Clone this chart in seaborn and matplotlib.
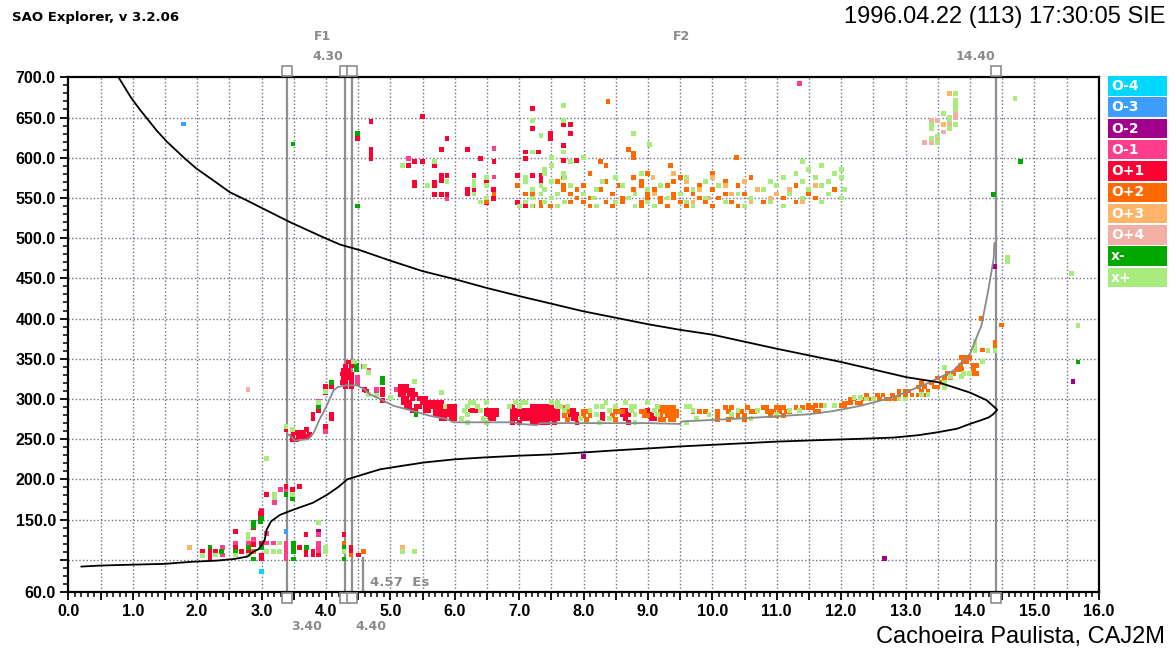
import numpy as np
import pandas as pd
import matplotlib
matplotlib.use("Agg")
import matplotlib.pyplot as plt
import seaborn as sns
from matplotlib.patches import Rectangle
from matplotlib.ticker import MultipleLocator

# ---------------- data ----------------
MODES = ["O-4", "O-3", "O-2", "O-1", "O+1", "O+2", "O+3", "O+4", "x-", "x+"]
MODE_COLORS = ["#00D8FF", "#3D9EFF", "#A0008C", "#FF3D8C", "#FF0033",
               "#FF6A00", "#FFB468", "#F2AFA6", "#00A800", "#A8EC80"]

# rows of (virtual height km, [frequencies MHz])
o4_rows = [(85, [3.0])]
o3_rows = [(642, [1.79]), (135, [3.38])]
o2_rows = [(135, [3.89]), (228, [8.0]), (102, [12.68]), (465, [14.38]), (322, [15.6])]
o1_rows = [
    (101, [3.38]), (106, [2.39, 3.38]), (110, [3.38, 3.89]), (115, [2.39, 3.38, 3.89]),
    (121, [2.59, 2.8, 3.08, 3.19, 3.38, 3.89]), (125, [2.88]), (131, [3.89]), (133, [3.08]),
    (162, [3.0]), (171, [3.2]), (187, [3.29, 3.38]), (260, [3.99]), (258, [3.57]),
    (297, [3.88]), (315, [4.09]), (319, [4.49]), (323, [4.49]), (327, [4.49]),
    (340, [4.58]), (336, [4.67]), (306, [4.78]), (312, [4.78, 5.1]), (281, [6.2]),
    (549, [5.88]), (576, [6.61]), (599, [5.28]), (611, [6.61]), (692, [11.35]),
]
o1p_e_rows = [
    (101, [2.2, 3.0]), (106, [2.2, 3.0, 3.69, 3.8, 3.89, 4.5]),
    (110, [2.08, 2.2, 2.29, 2.69, 2.8, 3.69, 3.8, 4.39]), (115, [2.59, 3.59, 4.39]),
    (119, [2.88]), (121, [3.0]), (131, [3.69, 4.28]), (135, [2.59]), (140, [2.88]),
    (146, [2.88]), (152, [2.98]), (156, [3.0]), (158, [2.98]), (160, [3.0]),
    (181, [3.08]), (187, [3.48]), (191, [3.38, 3.59]),
]
o1p_f1_rows = [
    (249, [3.48, 3.55]), (253, [3.48, 3.57, 3.65, 3.7]), (258, [3.5, 3.57, 3.65]),
    (262, [3.38, 3.7]), (256, [3.74]), (266, [3.99]), (276, [3.8, 4.09]), (281, [3.8, 4.09]),
    (285, [3.88]), (308, [3.99]), (315, [4.09]), (316, [3.99, 4.3, 4.4]),
    (321, [4.25, 4.3, 4.4]), (326, [4.27, 4.35, 4.4]), (331, [4.25, 4.3, 4.35, 4.4]),
    (336, [4.27, 4.35]), (341, [4.3, 4.4]), (346, [4.35]), (312, [4.6, 4.88]),
    (310, [4.63]), (298, [4.88]), (306, [4.88]),
]
o1p_f2_rows = [
    (316, [5.15, 5.2, 5.25]),
    (311, [5.15, 5.2, 5.25, 5.3, 5.35]),
    (306, [5.15, 5.2, 5.3, 5.35, 5.4]),
    (301, [5.2, 5.25, 5.35, 5.45, 5.5, 5.55]),
    (296, [5.2, 5.25, 5.3, 5.5, 5.55, 5.6, 5.65, 5.7, 5.75, 5.8]),
    (291, [5.25, 5.3, 5.4, 5.45, 5.55, 5.6, 5.65, 5.7, 5.75, 5.8, 5.85, 5.9, 5.95, 6.0,
           6.9, 7.2, 7.25, 7.3, 7.35, 7.4, 7.45, 7.5]),
    (286, [5.35, 5.4, 5.55, 5.6, 5.7, 5.75, 5.8, 5.85, 5.9, 5.95, 6.0, 6.25, 6.3, 6.35,
           6.5, 6.55, 6.6, 6.65, 6.9, 6.95, 7.0, 7.05, 7.1, 7.15, 7.2, 7.25, 7.3, 7.35,
           7.4, 7.45, 7.5, 7.55, 7.6, 7.8, 7.85, 8.6, 8.65, 9.0]),
    (281, [5.7, 5.75, 5.8, 5.85, 5.9, 5.95, 6.0, 6.5, 6.55, 6.6, 6.65, 6.9, 6.95, 7.0,
           7.05, 7.1, 7.15, 7.2, 7.25, 7.3, 7.35, 7.4, 7.45, 7.5, 7.55, 7.6, 7.8, 7.85,
           7.9, 8.3, 8.6, 8.65, 8.7, 9.05]),
    (276, [5.8, 5.85, 5.95, 6.0, 6.55, 6.6, 6.9, 6.95, 7.05, 7.1, 7.15, 7.2, 7.25, 7.3,
           7.35, 7.4, 7.45, 7.5, 7.55, 7.6, 7.85, 7.9, 8.3, 8.65, 9.05, 9.1]),
    (271, [6.9, 7.0, 7.2, 7.25, 7.3, 7.35, 7.4, 7.45, 7.55, 7.9, 8.7]),
]
o1p_hop2_rows = [
    (540, [7.1]), (544, [6.5, 6.97]), (549, [6.6]), (554, [5.69, 5.79, 5.88]),
    (555, [6.2, 6.3, 7.34]), (560, [6.2, 6.3, 6.6, 7.21]), (565, [5.38, 5.69, 6.5]),
    (569, [5.38, 5.69, 6.5]), (572, [5.79, 7.34]),
    (578, [5.79, 5.88, 6.3, 6.97, 7.21, 7.34]), (590, [5.28, 5.69]),
    (595, [5.37, 5.5, 6.61]), (597, [7.69, 7.89]), (599, [4.7, 6.4, 7.1]), (605, [4.7]),
    (607, [7.1, 7.3]), (610, [4.7, 5.79, 6.2]), (615, [7.69]), (624, [4.49, 5.88, 7.49]),
    (630, [7.49, 7.8]), (636, [7.21]), (641, [7.69, 7.8]), (645, [4.7]), (651, [5.5]),
    (661, [7.21]),
]
o2p_rows = [
    (110, [2.88, 4.58]), (121, [4.28]), (106, [4.39]),
    (289, [7.7, 9.2, 9.25, 9.3, 9.35, 9.4, 10.2, 10.3, 10.55, 10.8, 10.85, 11.0, 11.05,
           11.1, 11.3, 11.4, 11.5, 11.55]),
    (284, [7.7, 7.75, 8.0, 8.05, 8.5, 8.55, 8.6, 8.9, 8.95, 9.2, 9.25, 9.3, 9.35, 9.4,
           9.45, 9.7, 9.8, 9.9, 10.08, 10.25, 10.45, 10.6, 10.65, 10.85, 10.9, 10.95,
           11.05, 11.15, 11.2, 11.6, 11.65]),
    (279, [7.7, 8.0, 8.1, 8.45, 8.95, 9.0, 9.2, 9.3, 9.35, 9.4, 9.45, 10.08, 10.3, 10.4,
           10.5, 10.9, 11.0, 11.1]),
    (274, [7.75, 8.05, 8.5, 9.2, 9.25, 9.35, 9.4, 10.08, 10.25, 10.5]),
    (292, [11.5, 11.6, 11.7, 12.0, 12.05]),
    (295, [12.05, 12.1, 12.15, 12.25, 12.3]),
    (300, [12.15, 12.2, 12.35, 12.45, 12.6, 12.7, 12.75, 12.85]),
    (305, [12.4, 12.56, 12.65, 12.8, 12.9, 13.0, 13.1, 13.2, 13.3]),
    (310, [12.9, 13.0, 13.05, 13.25, 13.35]),
    (315, [13.2, 13.3, 13.45, 13.5]),
    (320, [13.25, 13.4, 13.55, 13.6]),
    (326, [13.5, 13.6, 13.7]),
    (332, [13.65, 13.75, 14.05, 14.1]),
    (337, [13.8, 13.87, 14.05]),
    (342, [13.85, 14.05, 14.1]),
    (347, [13.9, 13.95]),
    (352, [13.87, 13.95, 14.0]),
    (361, [14.2]), (367, [14.39]), (370, [14.39]), (392, [14.49]), (400, [14.18]),
    (540, [7.21, 7.34, 7.49, 8.1, 8.45, 8.9, 9.3, 9.6, 10.0, 10.4]),
    (545, [6.5, 7.34, 7.8, 8.0, 8.35, 8.6, 8.9, 9.2, 9.5, 9.9, 10.3, 10.8, 11.3]),
    (550, [7.9, 8.1, 8.6, 9.0, 9.2, 9.4, 9.8, 10.1, 10.6, 11.1, 11.6]),
    (555, [6.61, 7.1, 7.21, 7.8, 8.45, 9.0, 9.4, 9.7, 10.2, 10.5, 11.0, 11.5]),
    (560, [7.69, 7.9, 8.27, 8.78, 9.1, 9.6, 10.0, 10.7, 11.2, 11.9]),
    (565, [6.97, 7.69, 8.0, 8.55, 8.9, 9.3, 9.8, 10.4, 11.3]),
    (570, [7.6, 8.35, 8.9, 9.4, 10.2, 10.9]),
    (575, [7.69, 8.78, 9.5, 10.6]), (580, [8.1, 9.0, 10.0]), (590, [8.35, 9.35]),
    (595, [8.27]), (600, [8.78, 10.38]), (605, [8.78]), (610, [8.7]), (670, [8.38]),
]
o3p_rows = [
    (115, [1.88, 5.19]), (680, [13.68]), (641, [13.59]),
    (545, [9.7, 10.6, 11.4]), (550, [9.95, 10.9]), (555, [9.1, 10.3, 11.0]),
    (560, [9.8, 10.7, 11.2]), (565, [10.2, 11.6]), (570, [9.6, 10.5]),
    (575, [9.08, 10.0]), (580, [9.4]),
]
o4p_rows = [
    (312, [2.79]), (655, [13.78]), (650, [13.78]), (646, [13.41, 13.5]), (641, [13.68]),
    (632, [13.59]), (624, [13.5]), (619, [13.41, 13.3]),
]
xm_rows = [
    (116, [2.2]), (110, [2.38, 2.59, 3.5]), (115, [2.8, 3.0, 3.5, 3.7, 4.28]),
    (141, [2.88]), (146, [2.88, 3.88]), (101, [2.88, 3.5, 4.28]), (151, [3.0]),
    (147, [2.98]), (121, [3.5]), (181, [3.38]), (176, [3.48]),
    (290, [3.88]), (321, [4.09, 4.88]), (342, [4.48]), (337, [4.48]), (326, [4.88]),
    (281, [5.4]), (630, [4.49]), (540, [4.49]), (617, [3.49]), (595, [14.79]),
    (554, [14.37]), (346, [15.68]),
]
xp_rows = [
    (105, [2.08]), (106, [2.29, 2.59, 2.8]), (131, [2.79]), (127, [2.79]),
    (110, [3.08, 3.19, 3.28, 4.0, 4.28, 5.19, 5.38]), (121, [3.28]), (115, [4.0]),
    (146, [3.89]), (226, [3.08]), (181, [3.2, 3.48]), (178, [3.2]),
    (266, [3.38]), (262, [3.48]), (296, [3.88]), (309, [3.99]), (346, [4.42, 4.45]),
    (340, [4.6]), (333, [4.66]), (306, [4.66]), (304, [4.78]), (302, [5.0]),
    (308, [5.8]), (322, [5.38]),
    (296, [6.25, 6.3, 6.5, 6.95, 7.05, 7.1, 7.5, 7.6, 8.35, 8.65, 9.0]),
    (291, [5.85, 6.2, 6.35, 6.85, 7.0, 7.6, 7.65, 7.75, 8.2, 8.3, 8.5, 8.75, 8.8, 9.15,
           9.6, 9.65]),
    (286, [6.15, 6.4, 7.7, 8.1, 8.4, 8.75, 9.1, 9.7, 10.4, 10.7, 11.2, 11.35]),
    (281, [6.2, 8.2, 8.8, 9.15, 9.95, 10.3, 11.0]),
    (276, [6.1, 6.45, 7.95, 8.4, 9.75, 10.6]),
    (271, [6.2, 6.5, 8.25, 8.8, 9.6]),
    (292, [11.75, 11.9]), (302, [12.2, 12.3]), (300, [12.4, 12.5, 12.9, 13.0]),
    (306, [13.25, 13.35]), (314, [13.6]), (320, [13.6]), (328, [13.7, 13.87]),
    (332, [13.9, 14.0]), (339, [13.6]), (360, [14.08, 14.28, 14.39]), (366, [14.08]),
    (371, [14.08]), (347, [14.2]),
    (540, [7.0, 7.2, 7.6, 8.2, 8.8, 9.1, 9.7, 10.5, 11.1]),
    (545, [6.4, 7.1, 7.4, 7.7, 8.5, 9.0, 9.6, 10.2, 10.9, 11.7]),
    (550, [6.5, 7.21, 7.5, 8.15, 8.7, 9.3, 9.9, 10.6, 11.4, 12.0]),
    (555, [6.3, 7.34, 7.6, 8.0, 8.8, 9.5, 10.4, 11.2, 11.8]),
    (560, [7.21, 7.4, 8.2, 9.0, 9.7, 10.8, 11.5, 12.05]),
    (565, [5.58, 6.3, 6.5, 7.34, 7.8, 8.6, 9.2, 10.1, 11.0, 11.7]),
    (570, [5.88, 6.3, 7.1, 7.5, 8.3, 9.9, 10.9, 11.4, 11.8]),
    (575, [6.5, 7.1, 7.7, 8.5, 9.6, 11.1, 11.6, 12.0]),
    (580, [7.4, 7.69, 8.9, 11.3, 11.9]), (585, [7.4, 11.5, 12.0]),
    (590, [5.19, 7.5, 11.7]), (595, [5.69, 7.8, 11.4]), (600, [7.5, 8.0]),
    (607, [7.21, 7.69]), (616, [9.02]), (628, [7.34]), (630, [8.78]),
    (646, [7.21, 7.69]), (665, [7.69]),
    (674, [14.7]), (476, [14.59]), (471, [14.59]), (456, [15.58]), (391, [15.68]),
    (680, [13.78]), (671, [13.78]), (666, [13.78]), (660, [13.78]), (655, [13.59]),
    (650, [13.68]), (647, [13.68]), (641, [13.41, 13.78]), (636, [13.41, 13.68]),
    (627, [13.5]), (624, [13.41]), (619, [13.5]),
]

# profile curves (MHz, km)
lower_f = [0.2, 0.5, 1.0, 1.5, 1.9, 2.3, 2.57, 2.78, 2.87, 2.95, 3.0, 3.05, 3.08, 3.15,
           3.29, 3.5, 3.8, 4.02, 4.2, 4.33, 4.53, 4.84, 5.16, 5.52, 6.0, 6.5, 7.0, 7.48,
           8.0, 8.47, 9.0, 9.5, 10.0, 10.5, 11.0, 11.72, 12.3, 12.81, 13.2, 13.49, 13.8,
           14.0, 14.15, 14.29, 14.36, 14.42]
lower_h = [91.6, 92.9, 94, 95, 97.5, 99, 101, 104, 110, 113, 118, 125, 137.5, 148,
           156, 162.5, 171, 181, 191, 200, 205, 212.5, 216.6, 221, 225, 227.5, 229.5,
           231, 233.5, 236, 238.5, 241, 243, 245, 247, 249, 250.5, 252, 255, 258.5, 263,
           269, 273, 277, 281, 286]
upper_f = [0.78, 0.98, 1.11, 1.24, 1.37, 1.53, 1.81, 1.99, 2.25, 2.51, 2.77, 2.98, 3.44,
           3.96, 4.22, 4.53, 5.0, 5.5, 6.0, 6.5, 7.0, 7.5, 8.0, 8.5, 9.0, 9.5, 10.0,
           11.0, 12.0, 13.02, 13.5, 14.0, 14.26, 14.42]
upper_h = [700, 674, 660, 647, 634, 620, 599, 586.5, 571.9, 557, 547, 538.5, 520,
           501, 492, 485, 472, 459, 449, 438, 428, 418.5, 409, 401, 393, 386, 380,
           362.5, 346, 327, 321, 308, 298.5, 287]
trace_f = [3.41, 3.45, 3.52, 3.6, 3.73, 3.81, 3.91, 3.96, 4.06, 4.12, 4.19, 4.32, 4.48,
           4.6, 4.68, 4.84, 5.05, 5.36, 5.62, 5.88, 5.98, 6.5, 6.91, 7.01, 7.27, 7.33,
           8.0, 8.99, 9.5, 9.52, 10.5, 11.5, 11.88, 12.3, 12.8, 13.33, 13.74, 14.0,
           14.18, 14.28, 14.37, 14.38]
trace_h = [256, 254, 248, 249, 250, 258, 276, 283, 300, 311, 315, 317, 317, 312, 306,
           300, 291.5, 285, 279, 275, 271, 271, 271, 269, 267.5, 270, 270, 270, 269,
           272, 276, 281, 285, 291.5, 302, 319, 335, 356, 391.6, 433, 475, 494]

marker_freqs = [3.40, 4.30, 4.40, 14.40]
es_freq = 4.57
grid_x = np.arange(0.5, 16.0, 0.5)
grid_y = np.arange(100, 700, 50)
ytick_vals = [60, 100, 150, 200, 250, 300, 350, 400, 450, 500, 550, 600, 650, 700]

# ---------------- build table ----------------
groups = [("O-4", o4_rows), ("O-3", o3_rows), ("O-2", o2_rows), ("O-1", o1_rows),
          ("O+1", o1p_e_rows), ("O+1", o1p_f1_rows), ("O+1", o1p_f2_rows),
          ("O+1", o1p_hop2_rows), ("O+2", o2p_rows), ("O+3", o3p_rows),
          ("O+4", o4p_rows), ("x-", xm_rows), ("x+", xp_rows)]
recs = []
for mode, rows in groups:
    for h, fs in rows:
        for f in fs:
            recs.append((f, h, mode))
df = pd.DataFrame(recs, columns=["freq", "height", "mode"])

# ---------------- figure ----------------
sns.set_theme(style="white")
plt.rcParams["font.family"] = ["Liberation Sans", "DejaVu Sans"]

W, H = 1176, 654
fig = plt.figure(figsize=(W / 100, H / 100), dpi=100)
fig.patch.set_facecolor("white")
ax = fig.add_axes([68.3 / W, (H - 592) / H, 1030.4 / W, 514.7 / H])
ax.set_facecolor("white")

GRIDC = "#6a7383"
ax.vlines(grid_x, 60, 700, colors=GRIDC, linestyles=(0, (1, 1.6)), lw=1.0, zorder=0.5)
ax.hlines(grid_y, 0, 16, colors=GRIDC, linestyles=(0, (1, 1.6)), lw=1.0, zorder=0.5)

MK = "#8e8e8e"
ax.vlines(marker_freqs, 60, 700, colors=MK, lw=1.6, zorder=1)
ax.vlines([es_freq], 60, 104, colors=MK, lw=1.6, zorder=1)

sns.scatterplot(data=df, x="freq", y="height", hue="mode",
                palette=dict(zip(MODES, MODE_COLORS)), marker="s", s=12,
                linewidth=0, legend=False, ax=ax, zorder=2)

sns.lineplot(x=lower_f, y=lower_h, sort=False, estimator=None, color="black",
             lw=1.3, ax=ax, zorder=4)
sns.lineplot(x=upper_f, y=upper_h, sort=False, estimator=None, color="black",
             lw=1.3, ax=ax, zorder=4)
sns.lineplot(x=trace_f, y=trace_h, sort=False, estimator=None, color="#8a8a8a",
             lw=1.3, ax=ax, zorder=3)

for fx in marker_freqs:
    for hy in (708, 53):
        ax.plot([fx], [hy], marker="s", ms=6.5, mfc="white", mec=MK, mew=1.2,
                clip_on=False, zorder=5)

ax.set_xlim(0, 16)
ax.set_ylim(60, 700)
ax.set_xlabel("")
ax.set_ylabel("")

xt = np.arange(0, 16.01, 0.5)
ax.set_xticks(xt)
ax.set_xticklabels([f"{v:.1f}" if abs(v - round(v)) < 1e-9 else "" for v in xt])
ax.xaxis.set_minor_locator(MultipleLocator(0.1))
ax.set_yticks(ytick_vals)
ax.set_yticklabels(["" if v == 100 else f"{v:.1f}" for v in ytick_vals])
ax.yaxis.set_minor_locator(MultipleLocator(10))
ax.tick_params(which="both", direction="out", bottom=True, left=True, top=False,
               right=False, colors="black")
ax.tick_params(which="major", length=6, width=1.3, labelsize=11.5, pad=3)
ax.tick_params(which="minor", length=3.6, width=1.1)
for lab in ax.get_xticklabels() + ax.get_yticklabels():
    lab.set_fontweight("bold")
for sp in ax.spines.values():
    sp.set_visible(True)
    sp.set_color("black")
    sp.set_linewidth(1.6)

# legend boxes
for i, (m, c) in enumerate(zip(MODES, MODE_COLORS)):
    top = 76 + i * 21.3
    fig.add_artist(Rectangle((1108 / W, 1 - (top + 19.5) / H), 59 / W, 19.5 / H,
                             transform=fig.transFigure, facecolor=c, edgecolor="none"))
    fig.text(1111 / W, 1 - (top + 10) / H, m, color="white", fontsize=10,
             fontweight="bold", family=["DejaVu Sans"], ha="left", va="center")

def px(x, y):
    return x / W, 1 - y / H

GT = "#8a8a8a"
fig.text(*px(12, 17), "SAO Explorer, v 3.2.06", fontsize=9.5, fontweight="bold",
         family=["DejaVu Sans"], ha="left", va="center", color="black")
fig.text(*px(1165, 17), "1996.04.22 (113) 17:30:05 SIE", fontsize=17,
         ha="right", va="center", color="black")
fig.text(*px(1165, 637), "Cachoeira Paulista, CAJ2M", fontsize=17,
         ha="right", va="center", color="black")
for s, x, y, ha in [("F1", 322, 37, "center"), ("4.30", 328, 57, "center"),
                    ("F2", 682, 37, "center"), ("14.40", 975, 57, "center"),
                    ("3.40", 307, 627, "center"), ("4.40", 371, 627, "center"),
                    ("4.57  Es", 370, 583, "left")]:
    fig.text(*px(x, y), s, fontsize=9 if "Es" not in s else 9.6, fontweight="bold",
             family=["DejaVu Sans"], color=GT, ha=ha, va="center")

fig.savefig("out.png", dpi=100, facecolor="white")
